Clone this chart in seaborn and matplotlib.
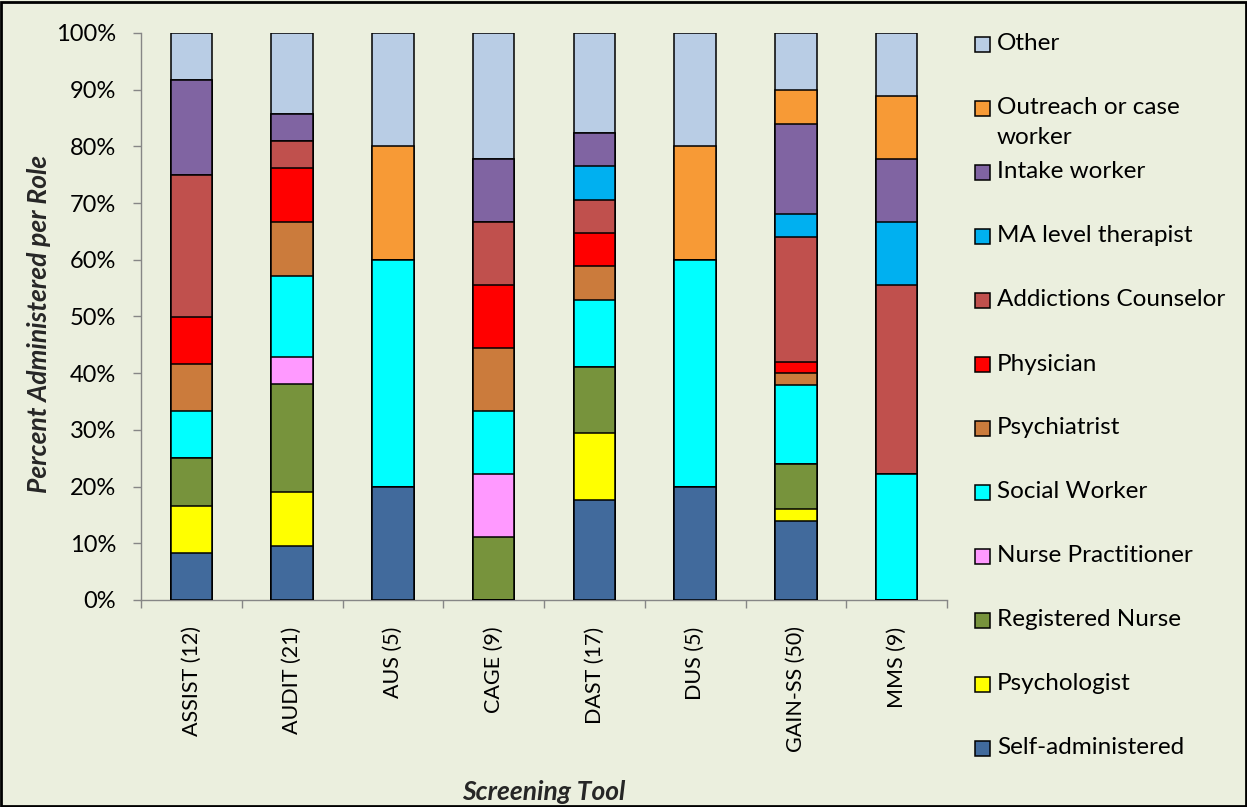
import numpy as np
import pandas as pd
import matplotlib
matplotlib.use("Agg")
import matplotlib.pyplot as plt
from matplotlib.patches import Rectangle
import seaborn as sns

# Screening tools and how many times each role administered them
tools = ["ASSIST", "AUDIT", "AUS", "CAGE", "DAST", "DUS", "GAIN-SS", "MMS"]

# Roles listed bottom-of-stack first
roles = ["Self-administered", "Psychologist", "Registered Nurse", "Nurse Practitioner",
         "Social Worker", "Psychiatrist", "Physician", "Addictions Counselor",
         "MA level therapist", "Intake worker", "Outreach or case\nworker", "Other"]

self_admin   = [1, 2, 1, 0, 3, 1, 7, 0]
psychologist = [1, 2, 0, 0, 2, 0, 1, 0]
reg_nurse    = [1, 4, 0, 1, 2, 0, 4, 0]
nurse_pract  = [0, 1, 0, 1, 0, 0, 0, 0]
social_work  = [1, 3, 2, 1, 2, 2, 7, 2]
psychiatrist = [1, 2, 0, 1, 1, 0, 1, 0]
physician    = [1, 2, 0, 1, 1, 0, 1, 0]
addictions   = [3, 1, 0, 1, 1, 0, 11, 3]
ma_therapist = [0, 0, 0, 0, 1, 0, 2, 1]
intake       = [2, 1, 0, 1, 1, 0, 8, 1]
outreach     = [0, 0, 1, 0, 0, 1, 3, 1]
other        = [1, 3, 1, 2, 3, 1, 5, 1]

colors = ["#416A9C", "#FFFF00", "#77933C", "#FF99FF", "#00FFFF", "#CB7B3C",
          "#FF0000", "#C0504D", "#00B0F0", "#8064A2", "#F79A36", "#B9CDE5"]

counts = np.array([self_admin, psychologist, reg_nurse, nurse_pract, social_work,
                   psychiatrist, physician, addictions, ma_therapist, intake,
                   outreach, other], dtype=float)
totals = counts.sum(axis=0)
shares = counts / totals
cum = np.cumsum(shares, axis=0)

labels = [f"{t} ({int(n)})" for t, n in zip(tools, totals)]

bg = "#EBEFDE"
axis_gray = "#868686"

sns.set_theme(style="white")
plt.rcParams["font.family"] = ["Lato", "DejaVu Sans"]

fig = plt.figure(figsize=(12.47, 8.07), dpi=100, facecolor=bg)
ax = fig.add_axes([141 / 1247, 1 - 600 / 807, 806 / 1247, 567 / 807])
ax.set_facecolor(bg)

# Stack by overdrawing cumulative totals, tallest first
for i in range(len(roles) - 1, -1, -1):
    df = pd.DataFrame({"tool": labels, "value": cum[i]})
    sns.barplot(data=df, x="tool", y="value", order=labels, color=colors[i],
                saturation=1, width=0.41, edgecolor="black", linewidth=1.1,
                ax=ax, zorder=3)

ax.set_xlim(-0.5, len(tools) - 0.5)
ax.set_ylim(0, 1)
ax.set_yticks(np.linspace(0, 1, 11))
ax.set_yticklabels([f"{int(round(v * 100))}%" for v in np.linspace(0, 1, 11)],
                   fontsize=17, color="black")
ax.set_xticks(range(len(tools)))
ax.set_xticklabels(labels, rotation=90, fontsize=15.5, color="black", va="top")
ax.set_xticks(np.arange(-0.5, len(tools) + 0.5, 1), minor=True)

ax.tick_params(axis="y", which="major", left=True, length=6, width=1,
               color=axis_gray, pad=12, direction="out")
ax.tick_params(axis="x", which="major", bottom=False, length=0, pad=19)
ax.tick_params(axis="x", which="minor", bottom=True, length=6, width=1,
               color=axis_gray, direction="out")

for side in ["top", "right"]:
    ax.spines[side].set_visible(False)
for side in ["left", "bottom"]:
    ax.spines[side].set_color(axis_gray)
    ax.spines[side].set_linewidth(1)

ax.set_xlabel("Screening Tool", fontsize=19, fontweight="bold", style="italic")
ax.set_ylabel("Percent Administered per Role", fontsize=19, fontweight="bold",
              style="italic")
ax.xaxis.label.set_verticalalignment("baseline")
ax.xaxis.set_label_coords(0.5, -0.353)
ax.yaxis.label.set_verticalalignment("center")
ax.yaxis.set_label_coords(-0.1266, 0.487)
ax.grid(False)

# Legend column, top entry is the top of the stack
W, H = 1247, 807
entry_y = 44
for i in range(len(roles) - 1, -1, -1):
    yc = entry_y
    fig.patches.append(Rectangle((975 / W, 1 - (yc + 7.5) / H), 15 / W, 15 / H,
                                 transform=fig.transFigure, facecolor=colors[i],
                                 edgecolor="black", linewidth=1.1))
    for k, line in enumerate(roles[i].split("\n")):
        fig.text(997 / W, 1 - (yc + k * 30) / H, line, fontsize=17.5,
                 ha="left", va="center", color="black")
    entry_y += 64

# Outer frame
fig.patches.append(Rectangle((0.001, 0.001), 0.998, 0.997, transform=fig.transFigure,
                             fill=False, edgecolor="black", linewidth=2))

fig.savefig("out.png", dpi=100, facecolor=bg)
